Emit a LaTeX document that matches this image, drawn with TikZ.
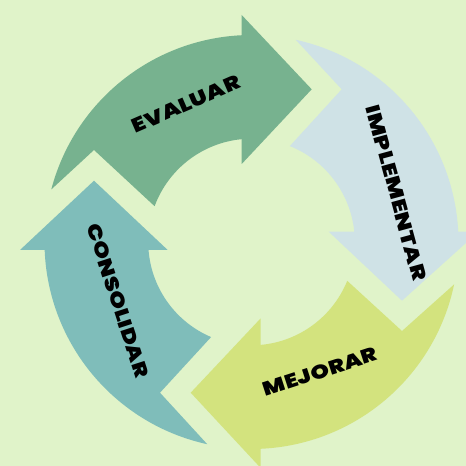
\documentclass[tikz,border=0pt]{standalone}
\usepackage{fontspec}
\newfontfamily\lblfont{Poppins}[UprightFont={* Black}, LetterSpace=1]
\definecolor{bgc}{RGB}{224,243,201}
\definecolor{cEval}{RGB}{119,178,143}
\definecolor{cImpl}{RGB}{207,226,230}
\definecolor{cMejo}{RGB}{211,227,126}
\definecolor{cCons}{RGB}{127,189,186}
\newcommand\fitlbl[2]{\resizebox{#1}{14pt}{\lblfont #2}}
\tikzset{
  cyclearrow/.style={draw=none},
  lbl/.style={inner sep=0pt, text=black}
}
\begin{document}
\begin{tikzpicture}[x=1pt,y=1pt]
\useasboundingbox (0,0) rectangle (466,466);
\fill[bgc] (0,0) rectangle (466,466);
\begin{scope}[shift={(251.5,224)}]
% EVALUAR
\fill[cEval, cyclearrow] (165.29:207pt) arc[start angle=165.29, end angle=92.71, radius=207pt]
  -- (-9.8,227) -- (60.2,152.7) -- (-9.8,78)
  -- (95.44:103.3pt) arc[start angle=95.44, end angle=159.73, radius=103.3pt]
  -- (-157.5,92) -- cycle;
% IMPLEMENTAR
\fill[cImpl, cyclearrow] (77.66:207pt) arc[start angle=77.66, end angle=2.85, radius=207pt]
  -- (227,10.3) -- (150.5,-58.7) -- (77.2,10.3)
  -- (5.72:103.3pt) arc[start angle=5.72, end angle=68.21, radius=103.3pt]
  -- (90.2,152.7) -- cycle;
% MEJORAR
\fill[cMejo, cyclearrow] (-11.82:207pt) arc[start angle=-11.82, end angle=-87.45, radius=207pt]
  -- (9.2,-226) -- (-60.8,-150.7) -- (9.2,-76.3)
  -- (-84.89:103.3pt) arc[start angle=-84.89, end angle=-22.07, radius=103.3pt]
  -- (150.5,-89) -- cycle;
% CONSOLIDAR
\fill[cCons, cyclearrow] (257.66:207pt) arc[start angle=257.66, end angle=182.21, radius=207pt]
  -- (-231.5,-8) -- (-157.5,61.3) -- (-83.8,-8)
  -- (184.44:103.3pt) arc[start angle=184.44, end angle=246.97, radius=103.3pt]
  -- (-91.5,-150.7) -- cycle;
% labels
\node[lbl, rotate=23.5] (tEval) at (-65.5,138) {\fitlbl{116pt}{EVALUAR}};
\node[lbl, rotate=-74.7] (tImpl) at (144.7,49) {\fitlbl{181pt}{IMPLEMENTAR}};
\node[lbl, rotate=18] (tMejo) at (68.5,-129.5) {\fitlbl{119pt}{MEJORAR}};
\node[lbl, rotate=-72] (tCons) at (-133.5,-58.8) {\fitlbl{161pt}{CONSOLIDAR}};
\end{scope}
\end{tikzpicture}
\end{document}
